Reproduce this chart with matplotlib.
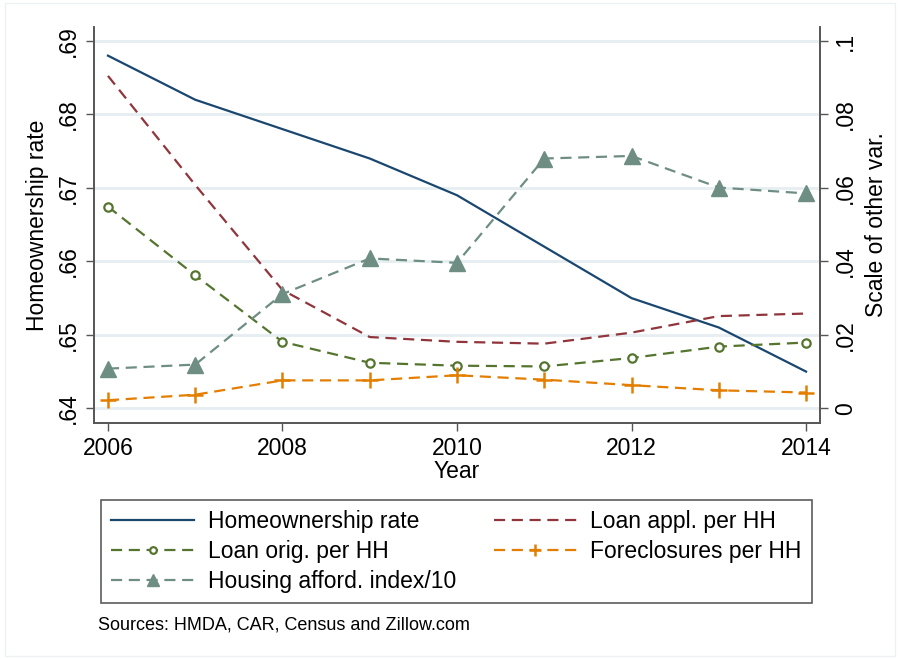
import matplotlib
matplotlib.use("Agg")
import matplotlib.pyplot as plt
from matplotlib.patches import Rectangle

plt.rcParams['font.family'] = ['Liberation Sans', 'DejaVu Sans']

# --- DATA ---
years = [2006, 2007, 2008, 2009, 2010, 2011, 2012, 2013, 2014]
homeownership = [0.688, 0.682, 0.678, 0.674, 0.669, 0.662, 0.655, 0.651, 0.645]
loan_appl = [0.0905, 0.0608, 0.0322, 0.0194, 0.0181, 0.0176, 0.0206, 0.0251, 0.0258]
loan_orig = [0.0549, 0.0362, 0.0181, 0.0124, 0.0116, 0.0114, 0.0137, 0.0168, 0.0179]
foreclosures = [0.0022, 0.0037, 0.0076, 0.0076, 0.0090, 0.0078, 0.0063, 0.0049, 0.0043]
afford = [0.0108, 0.0119, 0.0311, 0.0408, 0.0396, 0.0680, 0.0687, 0.0601, 0.0585]

left_ticks = [0.64, 0.65, 0.66, 0.67, 0.68, 0.69]
left_labels = ['.64', '.65', '.66', '.67', '.68', '.69']
right_ticks = [0, 0.02, 0.04, 0.06, 0.08, 0.1]
right_labels = ['0', '.02', '.04', '.06', '.08', '.1']
x_ticks = [2006, 2008, 2010, 2012, 2014]

# stata s2color palette
NAVY = '#1a476f'
MAROON = '#90353b'
GREEN = '#55752f'
ORANGE = '#e37e00'
TEAL = '#6e8e84'
AXCOL = '#555555'
FS = 16.5

fig = plt.figure(figsize=(9, 6.59), dpi=100)
ax1 = fig.add_axes([94/900, 1-423/659, (820-94)/900, (423-27)/659])
ax2 = ax1.twinx()

lw = 1.6
dash = (5, 3)
h1, = ax1.plot(years, homeownership, color=NAVY, lw=lw, label='Homeownership rate')
h2, = ax2.plot(years, loan_appl, color=MAROON, lw=lw, dashes=dash, label='Loan appl. per HH')
h3, = ax2.plot(years, loan_orig, color=GREEN, lw=lw, dashes=dash, marker='o', ms=6,
               mfc='white', mec=GREEN, mew=1.6, label='Loan orig. per HH')
h4, = ax2.plot(years, foreclosures, color=ORANGE, lw=lw, dashes=dash, marker='+', ms=11,
               mew=1.8, label='Foreclosures per HH')
h5, = ax2.plot(years, afford, color=TEAL, lw=lw, dashes=dash, marker='^', ms=11,
               mfc=TEAL, mec=TEAL, label='Housing afford. index/10')

ax1.set_xlim(2005.84, 2014.16)
ax1.set_ylim(0.638, 0.6919)
ax2.set_ylim(-0.004, 0.1038)

ax1.set_yticks(left_ticks)
ax1.set_yticklabels(left_labels, rotation=90, va='center', fontsize=FS)
ax2.set_yticks(right_ticks)
ax2.set_yticklabels(right_labels, rotation=90, va='center', fontsize=FS)
ax1.set_xticks(x_ticks)
ax1.set_xticklabels([str(x) for x in x_ticks], fontsize=FS)

ax1.grid(axis='y', color='#e6eef1', lw=2)
ax1.set_axisbelow(True)

for ax in (ax1, ax2):
    ax.spines['top'].set_visible(False)
    for s in ('left', 'right', 'bottom'):
        ax.spines[s].set_color(AXCOL)
        ax.spines[s].set_linewidth(1.2)
    ax.tick_params(length=6, width=1, color=AXCOL, pad=4)

ax1.set_ylabel('Homeownership rate', fontsize=FS, labelpad=6)
ax2.set_ylabel('Scale of other var.', fontsize=FS, labelpad=6)
ax1.set_xlabel('Year', fontsize=FS, labelpad=0)

handles = [h1, h3, h5, h2, h4]
fig.legend(handles=handles, labels=[h.get_label() for h in handles], ncol=2,
           loc='lower left', bbox_to_anchor=(101/900, 1-603/659, 711/900, 105/659),
           mode='expand', fontsize=FS, frameon=True, fancybox=False,
           edgecolor='#333333', handlelength=3.6, labelspacing=0.3,
           borderaxespad=0, handletextpad=0.6, borderpad=0.45, markerscale=0.8)
fig.legends[0].get_frame().set_linewidth(1.2)

fig.text(98/900, 1-625/659, 'Sources: HMDA, CAR, Census and Zillow.com',
         fontsize=13, va='center', ha='left')

fig.patches.append(Rectangle((5/900, 3/659), 890/900, 653/659, transform=fig.transFigure,
                             fill=False, edgecolor='#eef1f3', lw=1))

fig.savefig('out.png', dpi=100)
